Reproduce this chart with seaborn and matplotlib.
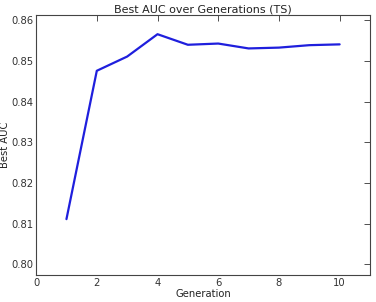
import matplotlib
matplotlib.use("Agg")
import matplotlib.pyplot as plt
import seaborn as sns
import pandas as pd

generations = [1, 2, 3, 4, 5, 6, 7, 8, 9, 10]
best_auc = [0.8111, 0.8476, 0.8511, 0.8566, 0.8540, 0.8543, 0.8531, 0.8533, 0.8539, 0.8541]

sns.set_style("white")
plt.rcParams['font.family'] = ['DejaVu Sans']

df = pd.DataFrame({"Generation": generations, "Best AUC": best_auc})

fig, ax = plt.subplots(figsize=(3.76, 3.02), dpi=100)
sns.lineplot(data=df, x="Generation", y="Best AUC", ax=ax, color="#1f1fdd", linewidth=1.6)

ax.set_xlim(0, 11)
ax.set_ylim(0.7974, 0.8613)
ax.set_xticks([0, 2, 4, 6, 8, 10])
ax.set_yticks([0.80, 0.81, 0.82, 0.83, 0.84, 0.85, 0.86])
ax.set_yticklabels([f"{v:.2f}" for v in [0.80, 0.81, 0.82, 0.83, 0.84, 0.85, 0.86]])
ax.tick_params(direction="in", top=True, right=True, length=4, width=0.6,
               labelsize=7.2, colors="#333333", pad=2)
for s in ax.spines.values():
    s.set_color("#444444")
    s.set_linewidth(0.8)
ax.set_title("Best AUC over Generations (TS)", fontsize=8, color="#222222", pad=2)
ax.set_xlabel("Generation", fontsize=7.2, color="#222222", labelpad=1)
ax.set_ylabel("Best AUC", fontsize=7.2, color="#222222")
ax.yaxis.set_label_coords(-0.077, 0.5)

fig.subplots_adjust(left=0.096, right=0.984, top=0.95, bottom=0.09)
fig.savefig("out.png", dpi=100)
